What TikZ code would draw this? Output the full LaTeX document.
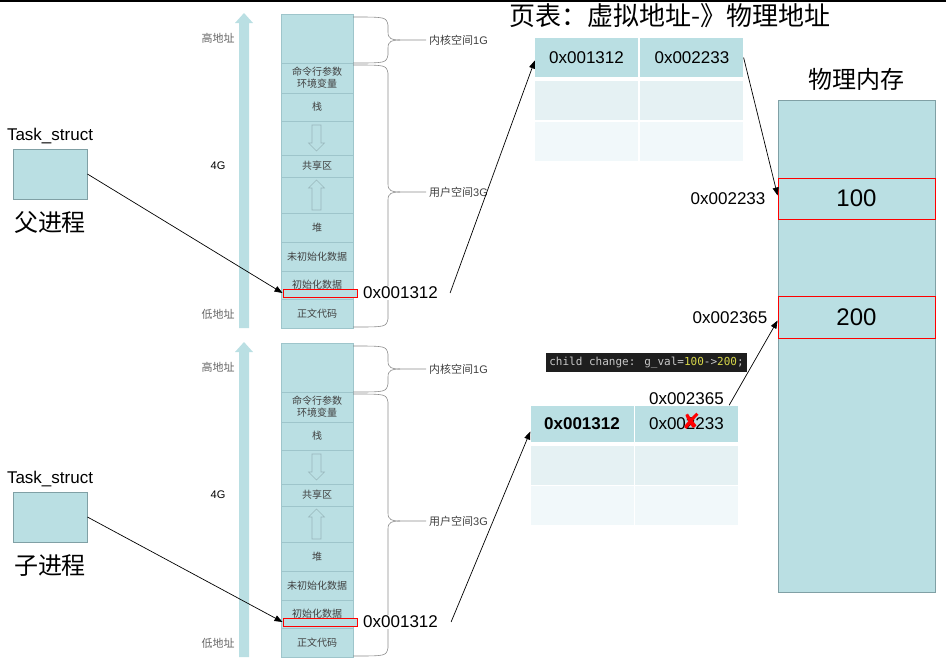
\documentclass[tikz,border=0pt]{standalone}
\usepackage{fontspec}
\setmainfont{Liberation Sans}
\newfontfamily\cjk{Noto Sans CJK SC}
\newfontfamily\codefont{DejaVu Sans Mono}
\newfontfamily\symfont{DejaVu Sans}
\usetikzlibrary{arrows.meta,positioning}

\definecolor{memfill}{RGB}{186,223,227}
\definecolor{memline}{RGB}{158,197,203}
\definecolor{boxline}{RGB}{128,160,165}
\definecolor{rowtwo}{RGB}{229,241,243}
\definecolor{rowthree}{RGB}{241,248,250}
\definecolor{codebg}{RGB}{30,30,30}
\definecolor{codegray}{RGB}{200,200,200}
\definecolor{codeyellow}{RGB}{214,214,74}
\definecolor{bracegray}{RGB}{140,140,140}

\begin{document}
\begin{tikzpicture}[x=1pt,y=-1pt,
    seg/.style={draw=memline, fill=memfill, line width=0.6pt},
    segtext/.style={font=\cjk\fontsize{10}{12}\selectfont, text=black!75, align=center, inner sep=0pt},
    sidetext/.style={font=\cjk\fontsize{11}{13}\selectfont, text=black!60},
    hollow/.style={draw=memline!80!gray, line width=0.6pt},
    brace/.style={draw=bracegray, line width=0.6pt},
    varbox/.style={draw=red, fill=memfill, line width=1pt, minimum width=74pt, minimum height=8pt, inner sep=0pt},
    taskbox/.style={draw=boxline, fill=memfill, line width=0.8pt, minimum width=74pt, minimum height=50pt},
    addr/.style={font=\fontsize{17}{20}\selectfont, inner sep=1pt},
    cell/.style={fill=memfill, minimum width=103pt, minimum height=39pt, inner sep=0pt, font=\fontsize{17}{20}\selectfont},
    membox/.style={draw=red, fill=memfill, line width=0.8pt, minimum width=157pt, font=\fontsize{24}{28}\selectfont},
    arr/.style={-{Triangle[length=8pt,width=6pt]}, line width=0.7pt},
  ]
  \useasboundingbox (0,0) rectangle (946,667);
  \draw[line width=1.5pt] (0,0.75) -- (946,0.75);

  % parent and child address space
  \foreach \h/\dy/\ty/\proc in {p/0/0/父进程, c/329/343/子进程}{
    \begin{scope}[shift={(0,\dy)}]
      \fill[memfill] (239,328) -- (239,23) -- (235,23) -- (244,13) -- (253,23) -- (249,23) -- (249,328) -- cycle;
      \node[sidetext] (hi\h) at (218,38) {高地址};
      \node[font=\fontsize{11}{13}\selectfont] (size\h) at (218,166) {4G};
      \node[sidetext] (lo\h) at (218,314) {低地址};
      \foreach \t/\b/\txt in {14/63/{}, 63/93/{命令行参数\\环境变量}, 93/121/栈, 121/155/{},
          155/177/共享区, 177/213/{}, 213/242/堆, 242/271/未初始化数据, 271/299/初始化数据, 299/328/正文代码}{
        \draw[seg] (281,\t) rectangle (353,\b);
        \node[segtext] at (317,{(\t+\b)/2}) {\txt};
      }
      \draw[hollow] (312,125) -- (321,125) -- (321,143) -- (324.5,143) -- (316.5,151) -- (308.5,143) -- (312,143) -- cycle;
      \draw[hollow] (312,210) -- (321,210) -- (321,188) -- (324.5,188) -- (316.5,180) -- (308.5,188) -- (312,188) -- cycle;
      \foreach \a/\b/\m/\name/\txt in {17/63/40/kern/{{\cjk 内核空间}1G}, 65/327/192/user/{{\cjk 用户空间}3G}}{
        \draw[brace] (353,\a) .. controls (386,\a) .. (388,\a+8) -- (388,\m-8) .. controls (388,\m-1) and (392,\m) .. (400,\m) -- (426,\m);
        \draw[brace] (353,\b) .. controls (386,\b) .. (388,\b-8) -- (388,\m+8) .. controls (388,\m+1) and (392,\m) .. (400,\m);
        \node[anchor=west, font=\fontsize{11}{13}\selectfont, text=black!75, inner sep=0pt] (\name\h) at (429,\m) {\txt};
      }
      \node[varbox] (var\h) at (320,293) {};
      \node[addr, fill=white, anchor=west] (addr\h) at (362,293) {0x001312};
    \end{scope}
    \begin{scope}[shift={(0,\ty)}]
      \node[taskbox] (task\h) at (50,174) {};
      \node[font=\fontsize{17}{20}\selectfont, above=1pt of task\h] (tname\h) {Task\_struct};
      \node[font=\cjk\fontsize{24}{28}\selectfont, below=9pt of task\h] (proc\h) {\proc};
    \end{scope}
    \draw[arr] (task\h.east) -- (var\h.west);
  }

  % page table of the parent
  \node[anchor=west, font=\cjk\fontsize{26}{30}\selectfont, inner sep=0pt] (title) at (509,16) {页表：虚拟地址-》物理地址};
  \node[cell] (t11) at (586.5,57.5) {0x001312};
  \node[cell, right=2pt of t11] (t12) {0x002233};
  \node[cell, fill=rowtwo, below=4pt of t11] (t21) {};
  \node[cell, fill=rowtwo, below=4pt of t12] (t22) {};
  \node[cell, fill=rowthree, below=1pt of t21] (t31) {};
  \node[cell, fill=rowthree, below=1pt of t22] (t32) {};

  % page table of the child
  \node[fill=codebg, font=\codefont\fontsize{11}{13}\selectfont, text=codegray, minimum width=201pt, minimum height=19pt, inner sep=0pt] (code) at (646.5,362.5)
    {child change: g\_val=\textcolor{codeyellow}{100}->\textcolor{codeyellow}{200};};
  \node[cell, minimum height=36pt, font=\bfseries\fontsize{17}{20}\selectfont] (b11) at (582,423.5) {0x001312};
  \node[cell, minimum height=36pt, right=1pt of b11] (b12) {0x002233};
  \node[cell, fill=rowtwo, below=4pt of b11] (b21) {};
  \node[cell, fill=rowtwo, below=4pt of b12] (b22) {};
  \node[cell, fill=rowthree, below=1pt of b21] (b31) {};
  \node[cell, fill=rowthree, below=1pt of b22] (b32) {};
  \node[font=\symfont\fontsize{22}{24}\selectfont, text=red, inner sep=0pt] (cross) at (691,421) {✘};
  \node[addr, above=-1pt of b12] (newaddr) {0x002365};

  % physical memory
  \node[draw=boxline, fill=memfill, line width=0.8pt, minimum width=157pt, minimum height=492pt] (phys) at (856.5,346) {};
  \node[font=\cjk\fontsize{24}{28}\selectfont, above=6pt of phys] (physname) {物理内存};
  \node[membox, minimum height=41pt] (m100) at (856.5,198.5) {100};
  \node[membox, minimum height=42pt] (m200) at (856.5,317.5) {200};
  \node[addr, left=11pt of m100] (a100) {0x002233};
  \node[addr, left=9pt of m200] (a200) {0x002365};

  \draw[arr] ([xshift=11pt]addrp.east) -- ([yshift=-3pt]t11.west);
  \draw[arr] (t12.east) -- ([yshift=3pt]m100.west);
  \draw[arr] ([xshift=12pt]addrc.east) -- ([yshift=-8pt]b11.west);
  \draw[arr] ([xshift=-9pt]b12.north east) -- ([yshift=-3pt]m200.west);
\end{tikzpicture}
\end{document}
